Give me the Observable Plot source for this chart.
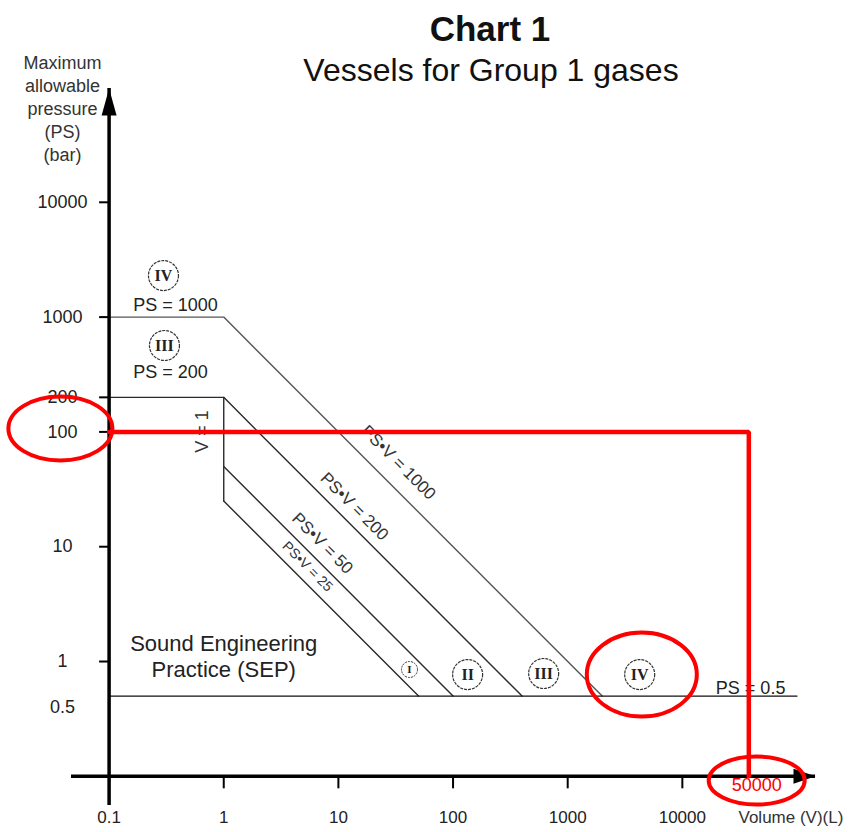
<!DOCTYPE html>
<html>
<head>
<meta charset="utf-8">
<script src="https://cdn.jsdelivr.net/npm/d3@7"></script>
<script src="https://cdn.jsdelivr.net/npm/@observablehq/plot@0.6"></script>
<style>
  html, body { margin: 0; padding: 0; background: #fff; }
  #wrap { position: relative; width: 858px; height: 832px; font-family: "Liberation Sans", Arial, sans-serif; color: #111; }
  .ttl { position: absolute; left: 490px; transform: translateX(-50%); white-space: nowrap; margin: 0; }
  #title { top: 11px; font-size: 35px; line-height: 35px; font-weight: bold; }
  #subtitle { top: 54px; left: 491px; font-size: 32px; line-height: 32px; font-weight: normal; }
  #chart { position: absolute; left: 0; top: 0; }
</style>
</head>
<body>
<div id="wrap">
  <div id="chart"></div>
  <h1 id="title" class="ttl">Chart 1</h1>
  <h2 id="subtitle" class="ttl">Vessels for Group 1 gases</h2>
</div>
<script>
// ---- data (V in litres, PS in bar) ----
const xTicks = [0.1, 1, 10, 100, 1000, 10000];
const yTicks = [10000, 1000, 200, 100, 10, 1];
const yTickLabels = [10000, 1000, 200, 100, 10, 1];
const yExtraLabel = [0.5];

const ps1000 = [[0.1, 1000], [1, 1000], [2000, 0.5]];
const ps200 = [[0.1, 200], [1, 200], [400, 0.5]];
const psv50 = [[1, 50], [100, 0.5]];
const psv25 = [[1, 25], [50, 0.5]];
const v1 = [[1, 200], [1, 25]];
const ps05 = [[0.1, 0.5], [100000, 0.5]];

const exampleV = 38000;          // drawn position of the example volume
const examplePS = 100;
const examplePath = [[0.1, examplePS], [exampleV, examplePS], [exampleV, 0.1]];

const categoryNames = ["IV", "III", "II", "III", "IV"];
const categoryV = [0.298, 0.304, 134, 617, 4246];
const categoryPS = [2300, 566, 0.77, 0.786, 0.77];
const catI = [{name: "I", V: 41.7, PS: 0.852}];

const hLabels = [
  {text: "PS = 1000", V: 0.379, PS: 1262},
  {text: "PS = 200", V: 0.343, PS: 329},
  {text: "PS = 0.5", V: 39400, PS: 0.582}
];
const diagLabels = [
  {text: "PS•V = 1000", V: 33.4, PS: 54.1},
  {text: "PS•V = 200", V: 13.8, PS: 22.4},
  {text: "PS•V = 50", V: 7.26, PS: 10.7}
];
const diagSmall = [{text: "PS•V = 25", V: 5.38, PS: 6.72}];
const vLabel = [{text: "V = 1", V: 0.652, PS: 100.8}];
const sepLabel = [{text: "Sound Engineering\nPractice (SEP)", V: 1.0, PS: 1.13}];
const highlightText = [{text: "50000", V: 44500, PS: 0.083}];
const ringIV = [{V: 4430, PS: 0.77}];
const ring100 = [{V: 0.0376, PS: 107}];
const ring50000 = [{V: 44500, PS: 0.0919}];

// ---- custom symbols ----
function polygon(points) {
  return {draw(ctx) { ctx.moveTo(points[0][0], points[0][1]); for (let i = 1; i < points.length; ++i) ctx.lineTo(points[i][0], points[i][1]); ctx.closePath(); }};
}
function segment(x1, y1, x2, y2) {
  return {draw(ctx) { ctx.moveTo(x1, y1); ctx.lineTo(x2, y2); }};
}
function ellipse(rx, ry) {
  const k = 0.5523;
  return {draw(ctx) {
    ctx.moveTo(rx, 0);
    ctx.bezierCurveTo(rx, k * ry, k * rx, ry, 0, ry);
    ctx.bezierCurveTo(-k * rx, ry, -rx, k * ry, -rx, 0);
    ctx.bezierCurveTo(-rx, -k * ry, -k * rx, -ry, 0, -ry);
    ctx.bezierCurveTo(k * rx, -ry, rx, -k * ry, rx, 0);
    ctx.closePath();
  }};
}

const xDomain = [0.047, 145000];
const yDomain = [0.0557, 98000];
const P = d => d[0], Q = d => d[1];
const lineStyle = {x: P, y: Q, stroke: "#2a2a2a", strokeWidth: 1.4};
const RED = "#ff0000";
const SERIF = "'Liberation Serif', 'Times New Roman', serif";

const chart = Plot.plot({
  width: 858,
  height: 832,
  marginLeft: 71,
  marginRight: 43,
  marginTop: 88,
  marginBottom: 27,
  x: {type: "log", domain: xDomain, axis: null},
  y: {type: "log", domain: yDomain, axis: null},
  style: {fontFamily: "'Liberation Sans', Arial, sans-serif", fontSize: "18px", color: "#111", background: "white"},
  marks: [
    // boundary lines
    Plot.line(ps1000, {...lineStyle, stroke: "#555"}),
    Plot.line(ps200, lineStyle),
    Plot.line(psv50, lineStyle),
    Plot.line(psv25, lineStyle),
    Plot.line(v1, lineStyle),
    Plot.line(ps05, {...lineStyle, stroke: "#111"}),

    // axes
    Plot.ruleX([0.1], {stroke: "#000", strokeWidth: 3.5}),
    Plot.ruleY([0.1], {stroke: "#000", strokeWidth: 3.5}),
    Plot.dot([[0.1, yDomain[1]]], {x: P, y: Q, symbol: polygon([[0, 0], [-7.5, 27], [7.5, 27]]), fill: "#000", stroke: "none", r: 1}),
    Plot.dot([[xDomain[1], 0.1]], {x: P, y: Q, symbol: polygon([[0, 0], [-22, -7.5], [-22, 7.5]]), fill: "#000", stroke: "none", r: 1}),
    Plot.dot(xTicks.slice(1), {x: d => d, y: () => 0.1, symbol: segment(0, 0, 0, 12), stroke: "#000", strokeWidth: 2, fill: "none", r: 1}),
    Plot.dot(yTicks, {x: () => 0.1, y: d => d, symbol: segment(0, 0, -10, 0), stroke: "#000", strokeWidth: 2, fill: "none", r: 1}),
    Plot.text(xTicks, {x: d => d, frameAnchor: "bottom", dy: 17, text: d => String(d), fontSize: 17, fill: "#222"}),
    Plot.text(yTickLabels, {y: d => d, frameAnchor: "left", dx: -9, text: d => String(d), fontSize: 18, fill: "#222", textAnchor: "middle"}),
    Plot.text(yExtraLabel, {y: d => d, frameAnchor: "left", dx: -9, dy: 11, text: d => String(d), fontSize: 18, fill: "#222", textAnchor: "middle"}),
    Plot.text(["Volume (V)(L)"], {frameAnchor: "bottom-right", dx: -77, dy: 17, text: d => d, textAnchor: "start", fontSize: 17, fill: "#333"}),
    Plot.text(["Maximum\nallowable\npressure\n(PS)\n(bar)"], {frameAnchor: "top-left", dx: -9, dy: -36, lineAnchor: "top", lineHeight: 1.28, text: d => d, textAnchor: "middle", fontSize: 18, fill: "#333"}),

    // labels
    Plot.text(hLabels, {x: "V", y: "PS", text: "text", fontSize: 18, fill: "#222"}),
    Plot.text(diagLabels, {x: "V", y: "PS", text: "text", rotate: 45, fontSize: 17, fill: "#333"}),
    Plot.text(diagSmall, {x: "V", y: "PS", text: "text", rotate: 45, fontSize: 14, fill: "#333"}),
    Plot.text(vLabel, {x: "V", y: "PS", text: "text", rotate: -90, fontSize: 18, fill: "#333"}),
    Plot.text(sepLabel, {x: "V", y: "PS", text: "text", fontSize: 22, lineHeight: 1.18, fill: "#222"}),

    // category circles
    Plot.dot(categoryNames, {x: (d, i) => categoryV[i], y: (d, i) => categoryPS[i], r: 15, stroke: "#333", strokeWidth: 1.2, strokeDasharray: "3,1", fill: "none"}),
    Plot.text(categoryNames, {x: (d, i) => categoryV[i], y: (d, i) => categoryPS[i], text: d => d, fontFamily: SERIF, fontWeight: "bold", fontSize: 16, fill: "#222"}),
    Plot.dot(catI, {x: "V", y: "PS", r: 8, stroke: "#333", strokeWidth: 1, strokeDasharray: "2,1", fill: "none"}),
    Plot.text(catI, {x: "V", y: "PS", text: "name", fontFamily: SERIF, fontWeight: "bold", fontSize: 11, fill: "#222"}),

    // red highlight
    Plot.line(examplePath, {x: P, y: Q, stroke: RED, strokeWidth: 4.5, strokeLinejoin: "miter"}),
    Plot.dot(ring100, {x: "V", y: "PS", symbol: ellipse(52, 32), stroke: RED, strokeWidth: 4, fill: "none", r: 1}),
    Plot.dot(ringIV, {x: "V", y: "PS", symbol: ellipse(55, 42), stroke: RED, strokeWidth: 4, fill: "none", r: 1}),
    Plot.dot(ring50000, {x: "V", y: "PS", symbol: ellipse(48, 24), stroke: RED, strokeWidth: 4, fill: "none", r: 1}),
    Plot.text(highlightText, {x: "V", y: "PS", text: "text", fontSize: 18, fill: RED})
  ]
});
document.getElementById("chart").appendChild(chart);
</script>
</body>
</html>
